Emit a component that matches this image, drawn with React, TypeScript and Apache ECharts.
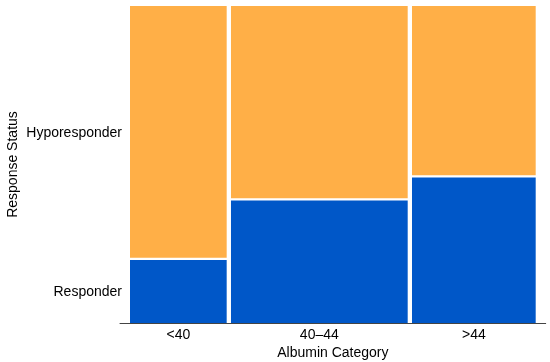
import React, { useEffect, useRef } from "react";
import * as echarts from "echarts";

const categories = ["<40", "40–44", ">44"];
const categoryShares = [0.2463, 0.4415, 0.3122];
const statuses = ["Responder", "Hyporesponder"];
const responderShares = [0.2024, 0.39, 0.4628];
const statusColors = ["#0057C8", "#FFAF47"];

const FONT = "'Liberation Sans', Arial, Helvetica, sans-serif";

export default function App() {
  const ref = useRef<HTMLDivElement>(null);
  useEffect(() => {
    const chart = echarts.init(ref.current!, null, { renderer: "svg" });
    const total = categoryShares.reduce((a, b) => a + b, 0);
    const cells: any[] = [];
    const xCenters: number[] = [];
    let cum = 0;
    categories.forEach((c, i) => {
      const x0 = cum / total;
      cum += categoryShares[i];
      const x1 = cum / total;
      xCenters.push((x0 + x1) / 2);
      const r = responderShares[i];
      cells.push({ name: c + " " + statuses[0], value: [x0, x1, 0, r, i, 0] });
      cells.push({ name: c + " " + statuses[1], value: [x0, x1, r, 1, i, 1] });
    });
    const yCenters = [responderShares[0] / 2, (1 + responderShares[0]) / 2];
    const nearest = (arr: number[], v: number) => {
      let best = 0;
      arr.forEach((a, i) => {
        if (Math.abs(a - v) < Math.abs(arr[best] - v)) best = i;
      });
      return best;
    };

    chart.setOption({
      animation: false,
      textStyle: { fontFamily: FONT },
      grid: {
        left: 120,
        right: 4.3,
        top: 6,
        bottom: 39,
        containLabel: false,
        outerBoundsMode: "none",
      },
      xAxis: {
        type: "value",
        min: -0.01915,
        max: 1.01915,
        name: "Albumin Category",
        nameLocation: "middle",
        nameGap: 22,
        nameMoveOverlap: false,
        nameTextStyle: { fontSize: 14, color: "#000", fontFamily: FONT },
        axisLine: { show: true, lineStyle: { color: "#444", width: 1 } },
        axisTick: { show: false },
        splitLine: { show: false },
        axisLabel: {
          customValues: xCenters,
          formatter: (v: number) => categories[nearest(xCenters, v)],
          fontSize: 14,
          color: "#000",
          margin: 4,
          fontFamily: FONT,
        },
      },
      yAxis: {
        type: "value",
        min: 0,
        max: 1,
        name: "Response Status",
        nameLocation: "middle",
        nameRotate: 90,
        nameGap: 101,
        nameMoveOverlap: false,
        nameTextStyle: { fontSize: 14, color: "#000", fontFamily: FONT },
        axisLine: { show: false },
        axisTick: { show: false },
        splitLine: { show: false },
        axisLabel: {
          customValues: yCenters,
          formatter: (v: number) => statuses[nearest(yCenters, v)],
          fontSize: 14,
          color: "#000",
          margin: -2,
          fontFamily: FONT,
        },
      },
      series: [
        {
          type: "custom",
          encode: { x: [0, 1], y: [2, 3] },
          data: cells,
          renderItem: (params: any, api: any) => {
            const x0 = api.value(0);
            const x1 = api.value(1);
            const y0 = api.value(2);
            const y1 = api.value(3);
            const p0 = api.coord([x0, y0]);
            const p1 = api.coord([x1, y1]);
            const hg = 2.15;
            const vg = 1.15;
            const bottomInset = y0 > 0 ? vg : 0;
            const topInset = y1 < 1 ? vg : 0;
            const left = p0[0] + hg;
            const right = p1[0] - hg;
            const bottom = p0[1] - bottomInset;
            const top = p1[1] + topInset;
            return {
              type: "rect",
              z2: 0,
              shape: { x: left, y: top, width: right - left, height: bottom - top },
              style: { fill: statusColors[api.value(5)] },
            };
          },
        },
      ],
    });
    return () => chart.dispose();
  }, []);
  return (
    <div
      ref={ref}
      style={{ position: "fixed", left: 0, top: 0, width: 550, height: 362 }}
    />
  );
}
